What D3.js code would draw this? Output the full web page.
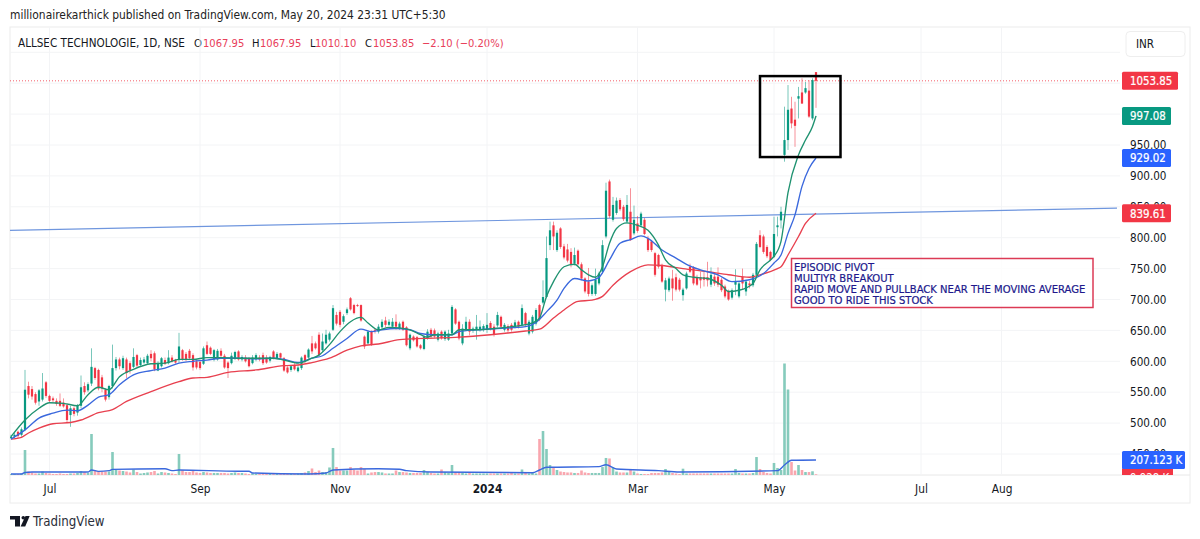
<!DOCTYPE html>
<html>
<head>
<meta charset="utf-8">
<script src="https://cdn.jsdelivr.net/npm/d3@7"></script>
<style>
  html, body { margin: 0; padding: 0; background: #fff; }
  svg { display: block; }
  text { font-family: "DejaVu Sans Condensed", "DejaVu Sans", sans-serif; }
</style>
</head>
<body>
<div id="chart"></div>
<script>
// candles, 10 bars per row
const opens = [476,478,486,481,489,560,555,547,535,538,
  566,544,540,536,536,533,529,513,524,517,
  528,560,553,564,589,586,574,554,542,560,
  589,603,589,603,597,591,610,594,598,597,
  612,613,585,592,602,597,606,602,602,618,
  612,617,610,600,599,596,626,622,603,603,
  617,609,598,597,605,616,603,606,605,597,
  603,606,610,606,601,616,605,613,605,590,
  586,594,584,589,610,606,629,629,643,618,
  629,635,651,675,680,664,678,702,691,691,
  691,640,629,648,651,648,655,666,659,656,
  664,653,664,655,621,640,639,626,620,637,
  651,650,635,648,636,635,645,684,664,629,
  651,664,650,651,651,651,651,662,656,658,
  672,651,657,659,656,664,659,678,645,648,
  661,691,695,704,788,820,780,815,786,781,
  777,758,779,757,734,729,709,709,726,745,
  802,891,829,840,861,850,826,842,807,823,
  820,829,799,794,775,772,756,716,715,734,
  736,732,707,718,753,752,736,736,736,736,
  724,737,737,732,721,713,703,724,705,737,
  713,726,723,740,804,802,785,777,769,817,
  828,934,958,1009,991,1025,1035,1035,1038,993,
  1067.95]
const highs = [481,484,488,493,586,567,560,550,555,581,
  568,546,543,540,548,540,532,528,527,531,
  577,566,566,621,591,588,578,556,562,627,
  607,606,609,606,600,621,612,606,607,612,
  618,616,600,607,606,618,610,604,646,620,
  615,620,613,603,601,624,632,624,620,620,
  621,612,600,614,617,618,610,610,607,610,
  613,610,614,610,609,618,615,614,607,592,
  594,597,594,608,612,621,641,632,647,645,
  651,648,691,680,683,676,687,704,693,693,
  692,642,650,650,653,660,668,672,668,670,
  676,664,666,657,645,642,641,628,642,652,
  654,653,648,650,650,651,691,686,666,660,
  672,668,656,675,666,660,678,665,660,680,
  674,662,660,662,667,666,692,680,667,675,
  686,693,731,802,826,826,812,817,790,790,
  783,784,781,760,736,751,726,750,745,796,
  889,894,866,865,864,853,869,880,852,835,
  842,832,803,796,777,774,758,735,737,748,
  742,735,719,745,758,754,740,745,745,761,
  752,741,752,735,724,716,718,749,730,750,
  732,730,743,793,812,805,788,779,834,834,
  850,1012,1047,1028,1020,1044,1058,1052,1055,1058,
  1067.95]
const lows = [474,475,476,478,487,540,538,530,528,535,
  541,533,534,528,526,525,500,494,511,512,
  524,546,550,560,570,553,550,535,538,556,
  585,587,586,573,580,589,590,592,596,595,
  600,584,584,590,594,595,598,596,598,601,
  600,602,585,587,586,594,610,610,600,601,
  606,588,573,595,602,601,600,598,590,595,
  600,600,594,596,598,603,603,604,583,580,
  583,585,582,586,597,604,612,619,608,615,
  627,632,649,658,655,660,675,682,676,688,
  664,620,627,625,645,645,652,655,657,653,
  651,651,649,624,618,632,622,619,618,635,
  637,638,632,635,633,633,642,659,634,626,
  649,642,646,635,648,648,646,650,640,655,
  652,648,645,648,653,653,656,656,642,645,
  658,665,692,702,780,780,777,782,765,760,
  752,755,755,731,710,705,706,706,723,742,
  799,832,826,837,843,827,823,795,804,808,
  817,804,777,777,737,750,727,697,712,698,
  713,713,698,716,743,723,722,718,721,721,
  720,722,720,712,702,698,700,707,702,716,
  706,718,720,737,783,774,767,762,767,802,
  815,923,942,977,947,993,1017,1033,994,990,
  1010.10]
const closes = [478,481,479,490,554,546,543,533,553,556,
  544,536,537,531,528,527,505,524,515,528,
  558,550,563,591,573,556,556,538,560,589,
  603,592,605,581,586,607,593,602,603,609,
  605,587,597,605,596,606,600,598,624,603,
  603,605,590,590,589,621,612,612,618,617,
  609,590,589,609,615,603,607,600,592,606,
  610,603,597,598,607,605,612,606,585,582,
  592,587,590,606,600,619,616,621,610,632,
  643,645,686,661,659,673,684,684,678,690,
  666,624,648,627,650,656,664,659,664,664,
  656,661,651,626,643,634,624,621,640,648,
  640,640,645,637,648,645,688,661,637,653,
  664,648,653,656,656,657,659,653,643,675,
  656,659,650,651,663,656,686,659,664,672,
  683,668,704,767,812,802,808,785,768,763,
  756,772,757,734,713,709,723,732,742,788,
  876,835,853,860,846,830,853,796,829,811,
  839,806,780,780,740,753,729,731,734,718,
  716,716,716,742,745,726,724,731,732,731,
  740,726,724,715,705,700,715,730,726,726,
  729,723,740,790,785,777,770,764,806,820,
  842,958,1007,985,981,1029,1017,1042,996,1055,
  1053.85]

// volume in thousands
const volumes = [14,14,14,21,345,48,35,21,21,48,
  28,21,14,14,21,14,14,21,21,28,
  55,41,28,566,62,55,48,48,48,317,
  69,62,55,48,35,76,41,21,28,35,
  41,55,21,41,35,28,21,14,290,69,
  41,41,62,35,28,41,35,28,28,28,
  28,28,21,28,35,28,28,21,14,21,
  14,14,14,14,14,14,14,14,14,14,
  14,14,21,28,35,55,90,41,62,41,
  41,104,373,110,62,62,62,110,69,62,
  110,83,21,35,41,41,35,21,21,21,
  62,41,41,35,28,28,28,28,69,41,
  28,21,21,76,41,28,138,41,41,28,
  21,28,21,21,21,21,21,21,21,21,
  21,21,21,28,21,21,76,35,21,28,
  21,497,607,359,138,110,69,48,41,35,
  35,28,28,62,35,28,28,28,28,110,
  235,228,110,48,35,35,35,83,48,21,
  14,14,14,28,28,28,35,83,55,28,
  21,14,87,21,21,21,21,21,21,21,
  21,21,21,21,21,21,21,83,28,21,
  21,21,28,248,83,41,28,21,166,97,
  69,1539,1180,179,62,138,69,41,41,51,
  10]

// moving averages, read at the bars where the line bends
const greenIdx = [0,4,8,11,15,19,22,25,28,31,35,40,44,48,52,56,60,65,70,75,78,82,83,86,88,91,94,97,100,102,105,108,111,114,117,119,121,126,128,133,138,143,149,151,153,155,158,161,163,165,167,169,171,173,176,179,182,185,187,190,192,195,199,203,205,208,212,214,217,218,220,222,225,227,229,230]
const greenMa = [478,505,524,533,532,528,546,558,554,575,587,596,597,603,603,606,606,605,605,605,602,597,598,605,610,627,648,664,671,662,651,655,654,651,643,639,643,643,651,651,653,656,662,670,705,729,753,757,748,740,736,753,791,815,824,820,812,788,764,750,740,736,734,723,713,715,726,748,764,770,794,873,934,958,980,997.08]
const blueIdx = [0,4,8,12,16,19,22,25,28,31,35,40,44,48,52,56,60,65,70,75,78,82,86,89,92,96,100,103,106,110,114,117,121,126,128,133,139,147,150,153,156,158,161,165,168,171,174,177,180,182,186,190,193,197,202,206,211,215,218,220,222,224,226,228,230]
const blueMa = [474,489,508,516,521,520,529,542,546,562,578,585,589,597,600,602,605,605,604,605,603,598,605,609,621,637,652,648,651,653,651,645,643,643,648,651,653,656,663,680,699,718,734,730,736,764,791,797,803,799,780,767,757,748,740,729,732,742,759,772,807,837,883,912,929.02]
const redIdx = [0,3,5,8,12,17,20,25,29,33,40,48,52,56,62,70,78,82,86,91,96,100,105,111,118,128,137,147,151,155,158,162,166,169,172,177,182,186,192,199,205,211,214,219,220,222,225,227,230]
const redMa = [474,477,484,492,499,501,505,517,522,535,551,567,573,574,582,586,593,594,598,605,618,625,628,635,637,639,643,649,652,670,683,697,699,705,723,745,756,755,750,745,740,736,740,750,753,772,802,823,839.61]

const volMaIdx = [0,3,4,6,22,23,25,28,29,44,46,48,65,68,69,85,90,92,105,111,113,120,149,151,153,168,170,173,185,191,219,221,223,230]
const volMa = [14,14,35,41,41,69,50,60,78,87,60,69,51,51,28,14,28,69,87,79,60,41,32,69,106,115,142,83,60,41,60,138,203,207.123]

// drawn trend line and the box around the last bars
const trendIdx = [-0.3, 316]
const trendVal = [812, 848]
const boxIdx = [214, 237]
const boxVal = [1061.5, 930.5]

const priceTicks = [450,500,550,600,650,700,750,800,850,900,950]
const gridPrices = [450,500,550,600,650,700,750,800,850,900,950,1000,1050,1100]
const monthTicks = [11,54,94,136,179,218,260,283]
const monthLabels = ["Jul","Sep","Nov","2024","Mar","May","Jul","Aug"]

const priceTags = [1053.85, 997.08, 929.02, 839.61]
const tagColors = ["#f23645", "#089981", "#2962ff", "#f23645"]
const noteLines = ["EPISODIC PIVOT", "MULTIYR BREAKOUT", "RAPID MOVE AND PULLBACK NEAR THE MOVING AVERAGE", "GOOD TO RIDE THIS STOCK"]

const legendParts = ["ALLSEC TECHNOLOGIE, 1D, NSE", "O", "1067.95", "H", "1067.95", "L", "1010.10", "C", "1053.85", "\u22122.10 (\u22120.20%)"]
const legendX = [18, 194, 203, 252, 260, 310, 315, 365, 373, 422]

const GREEN = "#089981", RED = "#f23645"
const PANE = { left: 10, right: 1120, top: 27, bottom: 475 }

const svg = d3.select("#chart").append("svg").attr("width", 1200).attr("height", 539)

const x = d3.scaleLinear().domain([0, 230]).range([11, 816])
const y = d3.scaleLinear().domain([450, 950]).range([454, 145])
const yVol = d3.scaleLinear().domain([0, 1539]).range([475, 363.5])

svg.append("defs").append("clipPath").attr("id", "pane")
  .append("rect").attr("x", PANE.left).attr("y", PANE.top)
  .attr("width", PANE.right - PANE.left).attr("height", PANE.bottom - PANE.top)
svg.select("defs").append("clipPath").attr("id", "axisClip")
  .append("rect").attr("x", PANE.right).attr("y", PANE.top).attr("width", 70).attr("height", PANE.bottom - PANE.top)

// header
svg.append("text").attr("x", 10).attr("y", 19).attr("font-size", 11.9).attr("fill", "#222")
  .text("millionairekarthick published on TradingView.com, May 20, 2024 23:31 UTC+5:30")

svg.selectAll(".legend").data(legendParts).enter().append("text")
  .attr("class", "legend")
  .attr("x", (d, i) => legendX[i]).attr("y", 47)
  .attr("font-size", (d, i) => i == 0 ? 11.6 : 11.1)
  .attr("fill", (d, i) => (i < 2 || i == 3 || i == 5 || i == 7) ? "#131722" : "#e8405a")
  .text(d => d)

// frame
svg.append("rect").attr("x", PANE.left).attr("y", PANE.top).attr("width", 1180).attr("height", 476)
  .attr("fill", "none").attr("stroke", "#ececec")
svg.append("line").attr("x1", PANE.left).attr("x2", 1190).attr("y1", PANE.bottom).attr("y2", PANE.bottom)
  .attr("stroke", "#e8e8e8")

// grid
const plot = svg.append("g").attr("clip-path", "url(#pane)")
plot.selectAll(".hgrid").data(gridPrices).enter().append("line")
  .attr("class", "hgrid")
  .attr("x1", PANE.left).attr("x2", PANE.right)
  .attr("y1", d => y(d)).attr("y2", d => y(d))
  .attr("stroke", "#f3f4f6")
plot.selectAll(".vgrid").data(monthTicks).enter().append("line")
  .attr("class", "vgrid")
  .attr("x1", d => x(d)).attr("x2", d => x(d))
  .attr("y1", PANE.top).attr("y2", PANE.bottom)
  .attr("stroke", "#f3f4f6")

// volume
const barW = 2.6
plot.selectAll(".vol").data(volumes).enter().append("rect")
  .attr("class", "vol")
  .attr("x", (d, i) => x(i) - barW / 2)
  .attr("y", d => yVol(d))
  .attr("width", barW)
  .attr("height", d => yVol(0) - yVol(d))
  .attr("fill", (d, i) => closes[i] >= opens[i] ? "#86cbbc" : "#f9a6ae")

const lineFrom = (xs, vals, yScale) => d3.line()
  .x((d, i) => x(xs[i]))
  .y(d => yScale(d))
  .curve(d3.curveMonotoneX)(vals)

plot.append("path").attr("d", lineFrom(volMaIdx, volMa, yVol))
  .attr("fill", "none").attr("stroke", "#3a68dd").attr("stroke-width", 1.4)

// trend line
plot.append("line")
  .attr("x1", x(trendIdx[0])).attr("x2", x(trendIdx[1]))
  .attr("y1", y(trendVal[0])).attr("y2", y(trendVal[1]))
  .attr("stroke", "#6f96de").attr("stroke-width", 1.2)

// last price line
plot.append("line")
  .attr("x1", PANE.left).attr("x2", PANE.right)
  .attr("y1", y(1053.85)).attr("y2", y(1053.85))
  .attr("stroke", RED).attr("stroke-dasharray", "1 2").attr("stroke-width", 1).attr("opacity", 0.8)

// candles
const candles = plot.selectAll(".candle").data(opens).enter().append("g").attr("class", "candle")
const candleColor = (d, i) => closes[i] >= opens[i] ? GREEN : RED
candles.append("line")
  .attr("x1", (d, i) => x(i)).attr("x2", (d, i) => x(i))
  .attr("y1", (d, i) => y(highs[i])).attr("y2", (d, i) => y(lows[i]))
  .attr("stroke", candleColor).attr("stroke-width", 0.9).attr("opacity", 0.6)
candles.append("rect")
  .attr("x", (d, i) => x(i) - 1.1)
  .attr("width", 2.2)
  .attr("y", (d, i) => y(Math.max(opens[i], closes[i])))
  .attr("height", (d, i) => Math.max(1, Math.abs(y(opens[i]) - y(closes[i]))))
  .attr("fill", candleColor)

// moving averages
const maLines = [[redIdx, redMa, "#e8404f"], [blueIdx, blueMa, "#3a68dd"], [greenIdx, greenMa, "#1f9270"]]
maLines.forEach(m => {
  plot.append("path").attr("d", lineFrom(m[0], m[1], y))
    .attr("fill", "none").attr("stroke", m[2]).attr("stroke-width", 1.35)
})

// box
plot.append("rect")
  .attr("x", x(boxIdx[0])).attr("y", y(boxVal[0]))
  .attr("width", x(boxIdx[1]) - x(boxIdx[0]))
  .attr("height", y(boxVal[1]) - y(boxVal[0]))
  .attr("fill", "none").attr("stroke", "#000").attr("stroke-width", 2.5)

// note
svg.append("rect").attr("x", 791.5).attr("y", 258.5).attr("width", 301.5).attr("height", 49)
  .attr("fill", "#fff").attr("fill-opacity", 0.8).attr("stroke", "#dc3a55").attr("stroke-width", 1.5)
svg.selectAll(".note").data(noteLines).enter().append("text")
  .attr("class", "note")
  .attr("x", 794)
  .attr("y", (d, i) => 270.8 + i * 10.9)
  .attr("font-size", 11.15)
  .attr("fill", "#20188c")
  .attr("stroke", "#20188c").attr("stroke-width", 0.2)
  .text(d => d)

// axes
const yAxisCall = d3.axisRight(y).tickValues(priceTicks).tickFormat(d3.format(".2f")).tickSize(0)
const yAxis = svg.append("g").attr("transform", "translate(1126,0)").call(yAxisCall)
yAxis.select(".domain").remove()
yAxis.selectAll("text").attr("font-size", 11.6).attr("fill", "#131722").attr("x", 4)

const xAxisCall = d3.axisBottom(x).tickValues(monthTicks).tickFormat((d, i) => monthLabels[i]).tickSize(0)
const xAxis = svg.append("g").attr("transform", `translate(0,${PANE.bottom})`).call(xAxisCall)
xAxis.select(".domain").remove()
xAxis.selectAll("text").attr("font-size", 11.8).attr("fill", "#131722").attr("y", 10)
  .attr("font-weight", (d, i) => monthLabels[i] == "2024" ? "bold" : "normal")

// price tags
const tags = svg.selectAll(".tag").data(priceTags).enter().append("g").attr("class", "tag")
tags.append("rect")
  .attr("x", 1122).attr("y", d => y(d) - 9)
  .attr("width", d => d >= 1000 ? 56 : 49).attr("height", 18).attr("rx", 1.5)
  .attr("fill", (d, i) => tagColors[i])
tags.append("text")
  .attr("x", 1130).attr("y", d => y(d) + 4.3)
  .attr("font-size", 11.4).attr("fill", "#fff")
  .attr("stroke", "#fff").attr("stroke-width", 0.2)
  .text(d => d.toFixed(2))

// volume tags, the lower one is cut by the time axis
const volTags = svg.append("g").attr("clip-path", "url(#axisClip)")
volTags.append("rect").attr("x", 1122).attr("y", yVol(9.928) + 3 - 9).attr("width", 51).attr("height", 18).attr("fill", RED)
volTags.append("text").attr("x", 1130).attr("y", yVol(9.928) + 3 + 4.3).attr("font-size", 11.4).attr("fill", "#fff").text("9.928 K")
svg.append("rect").attr("x", 1122).attr("y", yVol(207.123) - 9).attr("width", 63).attr("height", 18).attr("rx", 1.5).attr("fill", "#2962ff")
svg.append("text").attr("x", 1130).attr("y", yVol(207.123) + 4.3).attr("font-size", 11.4).attr("fill", "#fff")
  .attr("stroke", "#fff").attr("stroke-width", 0.2).text("207.123 K")

// currency button
svg.append("rect").attr("x", 1126).attr("y", 31.5).attr("width", 59).attr("height", 25).attr("rx", 4)
  .attr("fill", "#fff").attr("stroke", "#eeeeee")
svg.append("text").attr("x", 1136).attr("y", 48).attr("font-size", 11.6).attr("fill", "#131722").text("INR")

// logo
const logo = svg.append("g").attr("fill", "#131722")
logo.append("path").attr("d", "M10 516h10v10.5h-5v-7h-5z")
logo.append("circle").attr("cx", 23.3).attr("cy", 517.8).attr("r", 1.8)
logo.append("path").attr("d", "M25.5 516h4.2l-4.5 10.5h-4.6z")
svg.append("text").attr("x", 33).attr("y", 526).attr("font-size", 13.2).attr("fill", "#2a2e39").text("TradingView")
</script>
</body>
</html>
